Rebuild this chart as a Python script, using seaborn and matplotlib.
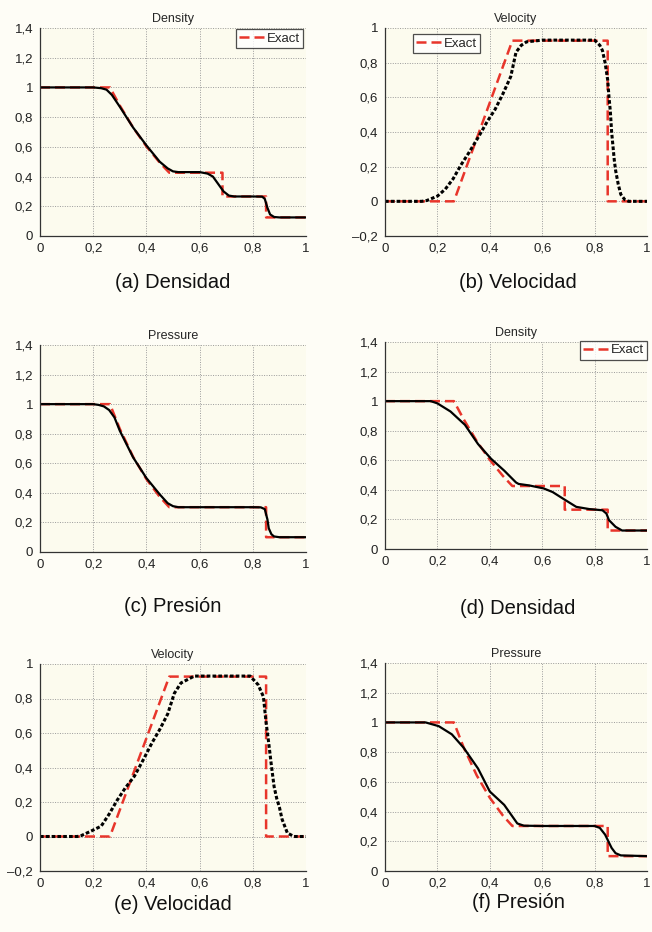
import matplotlib
matplotlib.use("Agg")
import matplotlib.pyplot as plt
import seaborn as sns

# exact Sod solution
exact_x_rho = [0.0, 0.263, 0.30, 0.35, 0.40, 0.45, 0.486, 0.686, 0.686, 0.850, 0.850, 1.0]
exact_rho = [1.0, 1.0, 0.878, 0.730, 0.603, 0.494, 0.426, 0.426, 0.266, 0.266, 0.125, 0.125]
exact_x_u = [0.0, 0.263, 0.486, 0.850, 0.850, 1.0]
exact_u = [0.0, 0.0, 0.927, 0.927, 0.0, 0.0]
exact_x_p = [0.0, 0.263, 0.30, 0.35, 0.40, 0.45, 0.486, 0.850, 0.850, 1.0]
exact_p = [1.0, 1.0, 0.833, 0.644, 0.493, 0.373, 0.303, 0.303, 0.1, 0.1]

# numerical results, panel by panel
num_a_x = [0.0, 0.20, 0.23, 0.25, 0.27, 0.30, 0.35, 0.40, 0.45, 0.48, 0.50, 0.52, 0.55, 0.60,
           0.63, 0.65, 0.67, 0.69, 0.71, 0.73, 0.80, 0.835, 0.845, 0.855, 0.865, 0.88, 0.90, 1.0]
num_a_y = [1.0, 1.0, 0.995, 0.985, 0.95, 0.87, 0.73, 0.61, 0.50, 0.455, 0.435, 0.43, 0.43, 0.43,
           0.42, 0.40, 0.35, 0.30, 0.272, 0.266, 0.266, 0.265, 0.25, 0.19, 0.145, 0.128, 0.125, 0.125]

num_b_x = [0.0, 0.14, 0.16, 0.20, 0.23, 0.26, 0.29, 0.32, 0.36, 0.39, 0.42, 0.45, 0.48, 0.50,
           0.52, 0.54, 0.57, 0.60, 0.70, 0.80, 0.82, 0.83, 0.84, 0.85, 0.855, 0.86, 0.865,
           0.87, 0.875, 0.88, 0.89, 0.90, 0.915, 0.93, 1.0]
num_b_y = [0.0, 0.0, 0.005, 0.03, 0.07, 0.13, 0.21, 0.28, 0.38, 0.46, 0.53, 0.62, 0.72, 0.86,
           0.90, 0.92, 0.925, 0.93, 0.93, 0.93, 0.90, 0.87, 0.80, 0.70, 0.60, 0.52, 0.40,
           0.32, 0.24, 0.18, 0.10, 0.04, 0.01, 0.0, 0.0]

num_c_x = [0.0, 0.20, 0.22, 0.24, 0.26, 0.28, 0.30, 0.35, 0.40, 0.45, 0.48, 0.50, 0.52, 0.55,
           0.80, 0.83, 0.845, 0.855, 0.86, 0.87, 0.88, 0.90, 1.0]
num_c_y = [1.0, 1.0, 0.995, 0.985, 0.96, 0.91, 0.82, 0.64, 0.50, 0.39, 0.33, 0.31, 0.303, 0.303,
           0.303, 0.302, 0.29, 0.22, 0.16, 0.12, 0.105, 0.1, 0.1]

num_d_x = [0.0, 0.175, 0.20, 0.25, 0.305, 0.355, 0.405, 0.455, 0.50, 0.51, 0.55, 0.605, 0.64,
           0.68, 0.73, 0.78, 0.83, 0.845, 0.855, 0.88, 0.905, 1.0]
num_d_y = [1.0, 1.0, 0.985, 0.93, 0.84, 0.71, 0.61, 0.53, 0.45, 0.44, 0.43, 0.41, 0.385,
           0.34, 0.285, 0.27, 0.262, 0.24, 0.195, 0.15, 0.125, 0.125]

num_e_x = [0.0, 0.14, 0.155, 0.19, 0.23, 0.26, 0.29, 0.32, 0.355, 0.39, 0.42, 0.45, 0.48, 0.505,
           0.53, 0.58, 0.70, 0.79, 0.82, 0.84, 0.85, 0.86, 0.87, 0.88, 0.89, 0.90, 0.91,
           0.93, 0.955, 1.0]
num_e_y = [0.0, 0.0, 0.005, 0.03, 0.06, 0.13, 0.21, 0.28, 0.35, 0.45, 0.54, 0.62, 0.71, 0.83,
           0.89, 0.93, 0.93, 0.93, 0.88, 0.81, 0.66, 0.54, 0.41, 0.29, 0.22, 0.17, 0.10,
           0.02, 0.0, 0.0]

num_f_x = [0.0, 0.155, 0.205, 0.255, 0.30, 0.355, 0.40, 0.455, 0.505, 0.53, 0.60, 0.80, 0.82,
           0.84, 0.865, 0.88, 0.90, 1.0]
num_f_y = [1.0, 1.0, 0.975, 0.92, 0.83, 0.69, 0.535, 0.445, 0.32, 0.305, 0.303, 0.303, 0.29,
           0.245, 0.155, 0.12, 0.105, 0.1]

titles = ["Density", "Velocity", "Pressure", "Density", "Velocity", "Pressure"]
captions = ["(a) Densidad", "(b) Velocidad", "(c) Presión", "(d) Densidad", "(e) Velocidad", "(f) Presión"]

x_ticks = [0, 0.2, 0.4, 0.6, 0.8, 1.0]
x_labels = ["0", "0,2", "0,4", "0,6", "0,8", "1"]
pos_ticks = [0, 0.2, 0.4, 0.6, 0.8, 1.0, 1.2, 1.4]
pos_labels = ["0", "0,2", "0,4", "0,6", "0,8", "1", "1,2", "1,4"]
vel_ticks = [-0.2, 0, 0.2, 0.4, 0.6, 0.8, 1.0]
vel_labels = ["\u20130,2", "0", "0,2", "0,4", "0,6", "0,8", "1"]

sns.set_style("white")
plt.rcParams["font.family"] = ["Liberation Sans", "DejaVu Sans"]

W, H = 652, 932
fig = plt.figure(figsize=(W / 100, H / 100), dpi=100, facecolor="#fefdf6")

# (left px, top px, bottom px, width px) for each panel
boxes = [(40, 28, 236, 266), (385, 28, 236, 262), (40, 345, 552, 266),
         (385, 342, 549, 262), (40, 664, 871, 266), (385, 663, 871, 262)]
cap_y = [283, 283, 606, 608, 904, 903]

panels = [
    (exact_x_rho, exact_rho, num_a_x, num_a_y, "rho"),
    (exact_x_u, exact_u, num_b_x, num_b_y, "u"),
    (exact_x_p, exact_p, num_c_x, num_c_y, "p"),
    (exact_x_rho, exact_rho, num_d_x, num_d_y, "rho"),
    (exact_x_u, exact_u, num_e_x, num_e_y, "u"),
    (exact_x_p, exact_p, num_f_x, num_f_y, "p"),
]
legend_loc = {0: ("upper right", (0.99, 0.995)), 1: ("upper left", (0.105, 0.97)),
              3: ("upper right", (1.0, 1.005))}

red = "#e8352b"
for i, (ex, ey, nx, ny, kind) in enumerate(panels):
    left, top, bot, wid = boxes[i]
    ax = fig.add_axes([left / W, 1 - bot / H, wid / W, (bot - top) / H])
    ax.set_facecolor("#fcfbee")

    lab = "Exact" if i in legend_loc else None
    sns.lineplot(x=ex, y=ey, ax=ax, color=red, linestyle=(0, (4, 2)), linewidth=1.8,
                 sort=False, estimator=None, label=lab)
    if kind == "u":
        sns.lineplot(x=nx, y=ny, ax=ax, color="black", linestyle=(0, (1.2, 0.7)),
                     linewidth=2.2, sort=False, estimator=None)
    else:
        sns.lineplot(x=nx, y=ny, ax=ax, color="black", linewidth=1.6,
                     sort=False, estimator=None)

    ax.set_xlim(0, 1)
    ax.set_xticks(x_ticks, x_labels)
    if kind == "u":
        ax.set_ylim(-0.2, 1.0)
        ax.set_yticks(vel_ticks, vel_labels)
    else:
        ax.set_ylim(0, 1.4)
        ax.set_yticks(pos_ticks, pos_labels)
    ax.set_xlabel("")
    ax.set_ylabel("")

    ax.grid(True, color="#9a9a9a", linestyle=(0, (1, 1.5)), linewidth=0.7)
    ax.set_axisbelow(True)
    for s in ["top", "right"]:
        ax.spines[s].set_visible(False)
    for s in ["left", "bottom"]:
        ax.spines[s].set_color("#333333")
        ax.spines[s].set_linewidth(0.9)
    ax.tick_params(direction="in", length=3, width=0.6, labelsize=9.5, pad=5, colors="#222222")

    ax.set_title(titles[i], fontsize=9, pad=4)

    if i in legend_loc:
        loc, anchor = legend_loc[i]
        leg = ax.legend(loc=loc, bbox_to_anchor=anchor, fontsize=9.5, frameon=True, fancybox=False,
                        handlelength=2.0, handletextpad=0.1, borderpad=0.25, borderaxespad=0.0)
        leg.get_frame().set_edgecolor("#222222")
        leg.get_frame().set_linewidth(0.9)
        leg.get_frame().set_facecolor("white")
    elif ax.get_legend() is not None:
        ax.get_legend().remove()

    fig.text((left + 133) / W, 1 - cap_y[i] / H, captions[i], fontsize=14.5,
             ha="center", va="center", color="#111111")

fig.savefig("out.png", dpi=100, facecolor=fig.get_facecolor())
